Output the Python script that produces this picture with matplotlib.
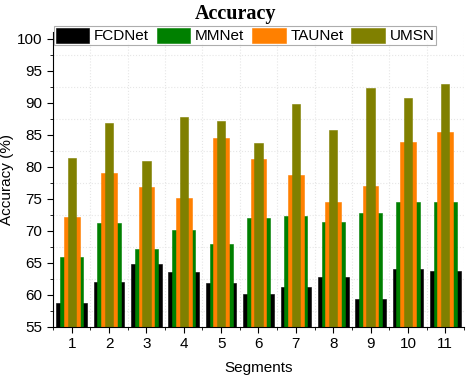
import matplotlib
matplotlib.use('Agg')
import matplotlib.pyplot as plt
import numpy as np
from matplotlib.ticker import MultipleLocator

plt.rcParams['font.family'] = ['Liberation Sans', 'DejaVu Sans']
plt.rcParams['font.size'] = 11

# data
segments = [1, 2, 3, 4, 5, 6, 7, 8, 9, 10, 11]
fcdnet = [58.8, 62.0, 64.9, 63.6, 61.9, 60.1, 61.2, 62.8, 59.3, 64.0, 63.7]
mmnet = [65.9, 71.2, 67.2, 70.2, 68.0, 72.1, 72.4, 71.4, 72.8, 74.6, 74.6]
taunet = [72.2, 79.0, 76.9, 75.1, 84.5, 81.3, 78.8, 74.5, 77.0, 83.9, 85.5]
umsn = [81.4, 86.8, 80.9, 87.8, 87.2, 83.7, 89.9, 85.7, 92.3, 90.7, 93.0]

names = ['FCDNet', 'MMNet', 'TAUNet', 'UMSN']
colors = ['#000000', '#008000', '#FF8000', '#808000']
widths = [0.82, 0.62, 0.42, 0.22]

fig = plt.figure(figsize=(4.72, 3.8), dpi=100)
ax = fig.add_axes([0.1123, 0.1395, 0.8707, 0.775])

for vals, name, c, w in zip([fcdnet, mmnet, taunet, umsn], names, colors, widths):
    ax.bar(segments, np.array(vals) - 55, width=w, bottom=55, color=c,
           edgecolor=c, linewidth=0.4, label=name, zorder=2)

ax.set_xlim(0.5, 11.5)
ax.set_ylim(55, 101)
ax.set_xticks(segments)
ax.xaxis.set_minor_locator(MultipleLocator(0.5))
ax.yaxis.set_major_locator(MultipleLocator(5))
ax.yaxis.set_minor_locator(MultipleLocator(2.5))
ax.grid(which='minor', color='#e6e6e6', linestyle=':', linewidth=0.8, zorder=0)
ax.set_axisbelow(True)

for s in ['top', 'right']:
    ax.spines[s].set_visible(False)
ax.tick_params(which='major', direction='out', length=4, labelsize=11)
ax.tick_params(which='minor', direction='out', length=2)

ax.set_xlabel('Segments', fontsize=11, labelpad=7)
ax.set_ylabel('Accuracy (%)', fontsize=11)
ax.yaxis.set_label_coords(-0.095, 0.5)
fig.text(0.5, 0.963, 'Accuracy', ha='center', va='center',
         fontfamily='Liberation Serif', fontweight='bold', fontsize=14.5)

leg = fig.legend(loc='upper left',
                 bbox_to_anchor=(54 / 472, 1 - 46 / 380, 382 / 472, 20 / 380),
                 mode='expand', ncol=4, frameon=True, fancybox=False,
                 edgecolor='#999999', handlelength=2.2, handleheight=1.15,
                 handletextpad=0.3, columnspacing=0.1, borderpad=0.1,
                 borderaxespad=0, fontsize=11)
leg.get_frame().set_linewidth(0.8)

fig.savefig('out.png', dpi=100)
